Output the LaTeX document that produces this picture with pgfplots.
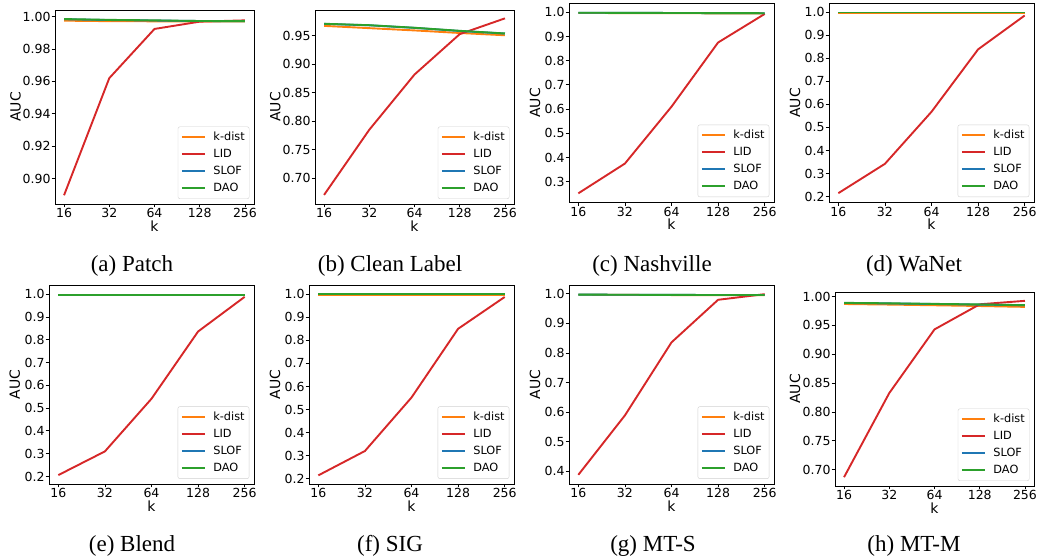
\documentclass[border=0pt]{standalone}
\usepackage{pgfplots}
\pgfplotsset{compat=1.18}
\usepackage{fontspec}
\setmainfont{Liberation Serif}
\newfontfamily\dv{DejaVu Sans}
\definecolor{cK}{HTML}{FF7F0E}
\definecolor{cL}{HTML}{D62728}
\definecolor{cS}{HTML}{1F77B4}
\definecolor{cD}{HTML}{2CA02C}
\pgfplotsset{
  panel/.style={
    scale only axis,
    anchor=south west,
    xmin=-0.2, xmax=4.2,
    xtick={0,1,2,3,4},
    xticklabels={16,32,64,128,256},
    tick pos=left,
    tick align=outside,
    major tick length=3.3pt,
    every tick/.style={black, line width=0.8pt},
    axis line style={line width=0.9pt},
    tick label style={font=\dv\fontsize{12.5}{14}\selectfont, inner sep=1pt},
    label style={font=\dv\fontsize{14}{16}\selectfont},
    xlabel={k}, ylabel={AUC},
    xlabel style={at={(axis description cs:0.5,0)}, anchor=center, yshift=-22pt},
    ylabel style={anchor=center},
    legend cell align=left,
    legend style={at={(axis description cs:0.977,0.026)}, anchor=south east,
      draw=black!18, rounded corners=2pt, fill=white, fill opacity=0.8, text opacity=1,
      font=\dv\fontsize{11.3}{13}\selectfont, inner xsep=3pt, inner ysep=4pt, row sep=4pt,
      nodes={inner sep=1.5pt, text height=8pt, text depth=2pt},
      /tikz/every odd column/.append style={column sep=6pt}},
    legend image code/.code={\draw[##1, line width=2pt] (0pt,0pt) -- (23pt,0pt);},
    every axis plot/.append style={line width=1.9pt, mark=none},
  },
}
\begin{document}
\begin{tikzpicture}
\useasboundingbox (0,0) rectangle (1039pt,559pt);
% (a) Patch
\begin{axis}[panel, at={(55pt,355pt)}, width=199pt, height=194pt,
  ymin=0.8843, ymax=1.0041,
  ytick={0.90,0.92,0.94,0.96,0.98,1.00}, yticklabels={0.90,0.92,0.94,0.96,0.98,1.00},
  ylabel style={at={(axis description cs:-0.1985,0.5)}}]
\addplot[cK] coordinates {(0,0.9975) (1,0.9972) (2,0.9971) (3,0.9970) (4,0.9970)};
\addplot[cL] coordinates {(0,0.8897) (1,0.9620) (2,0.9924) (3,0.9969) (4,0.9977)};
\addplot[cS] coordinates {(0,0.9984) (1,0.9979) (2,0.9976) (3,0.9973) (4,0.9972)};
\addplot[cD] coordinates {(0,0.9985) (1,0.9980) (2,0.9977) (3,0.9973) (4,0.9972)};
\legend{k-dist,LID,SLOF,DAO}
\end{axis}
% (b) Clean Label
\begin{axis}[panel, at={(315pt,355pt)}, width=199pt, height=194pt,
  ymin=0.6546, ymax=0.9954,
  ytick={0.70,0.75,0.80,0.85,0.90,0.95}, yticklabels={0.70,0.75,0.80,0.85,0.90,0.95},
  ylabel style={at={(axis description cs:-0.1995,0.5)}}]
\addplot[cK] coordinates {(0,0.9675) (1,0.9635) (2,0.9595) (3,0.9550) (4,0.9510)};
\addplot[cL] coordinates {(0,0.6705) (1,0.7850) (2,0.8820) (3,0.9530) (4,0.9807)};
\addplot[cS] coordinates {(0,0.9710) (1,0.9685) (2,0.9640) (3,0.9585) (4,0.9540)};
\addplot[cD] coordinates {(0,0.9712) (1,0.9687) (2,0.9642) (3,0.9588) (4,0.9542)};
\legend{k-dist,LID,SLOF,DAO}
\end{axis}
% (c) Nashville
\begin{axis}[panel, at={(569pt,356.7pt)}, width=205pt, height=199pt,
  ymin=0.215, ymax=1.037,
  ytick={0.3,0.4,0.5,0.6,0.7,0.8,0.9,1.0}, yticklabels={0.3,0.4,0.5,0.6,0.7,0.8,0.9,1.0},
  ylabel style={at={(axis description cs:-0.166,0.5)}}]
\addplot[cK] coordinates {(0,0.9970) (1,0.9965) (2,0.9960) (3,0.9955) (4,0.9950)};
\addplot[cL] coordinates {(0,0.252) (1,0.375) (2,0.610) (3,0.875) (4,0.993)};
\addplot[cS] coordinates {(0,0.9980) (1,0.9975) (2,0.9970) (3,0.9965) (4,0.9960)};
\addplot[cD] coordinates {(0,0.9980) (1,0.9975) (2,0.9970) (3,0.9965) (4,0.9960)};
\legend{k-dist,LID,SLOF,DAO}
\end{axis}
% (d) WaNet
\begin{axis}[panel, at={(829pt,356.7pt)}, width=205pt, height=199pt,
  ymin=0.175, ymax=1.039,
  ytick={0.2,0.3,0.4,0.5,0.6,0.7,0.8,0.9,1.0}, yticklabels={0.2,0.3,0.4,0.5,0.6,0.7,0.8,0.9,1.0},
  ylabel style={at={(axis description cs:-0.166,0.5)}}]
\addplot[cK] coordinates {(0,0.9985) (1,0.9985) (2,0.9985) (3,0.9985) (4,0.9985)};
\addplot[cL] coordinates {(0,0.2145) (1,0.342) (2,0.568) (3,0.839) (4,0.986)};
\addplot[cS] coordinates {(0,0.9990) (1,0.9990) (2,0.9990) (3,0.9990) (4,0.9990)};
\addplot[cD] coordinates {(0,0.9990) (1,0.9990) (2,0.9990) (3,0.9990) (4,0.9990)};
\legend{k-dist,LID,SLOF,DAO}
\end{axis}
% (e) Blend
\begin{axis}[panel, at={(49pt,75pt)}, width=205pt, height=199pt,
  ymin=0.167, ymax=1.040,
  ytick={0.2,0.3,0.4,0.5,0.6,0.7,0.8,0.9,1.0}, yticklabels={0.2,0.3,0.4,0.5,0.6,0.7,0.8,0.9,1.0},
  ylabel style={at={(axis description cs:-0.167,0.5)}}]
\addplot[cK] coordinates {(0,0.9975) (1,0.9975) (2,0.9975) (3,0.9975) (4,0.9975)};
\addplot[cL] coordinates {(0,0.206) (1,0.310) (2,0.541) (3,0.836) (4,0.988)};
\addplot[cS] coordinates {(0,0.9980) (1,0.9980) (2,0.9980) (3,0.9980) (4,0.9980)};
\addplot[cD] coordinates {(0,0.9980) (1,0.9980) (2,0.9980) (3,0.9980) (4,0.9980)};
\legend{k-dist,LID,SLOF,DAO}
\end{axis}
% (f) SIG
\begin{axis}[panel, at={(309pt,75pt)}, width=205pt, height=199pt,
  ymin=0.177, ymax=1.040,
  ytick={0.2,0.3,0.4,0.5,0.6,0.7,0.8,0.9,1.0}, yticklabels={0.2,0.3,0.4,0.5,0.6,0.7,0.8,0.9,1.0},
  ylabel style={at={(axis description cs:-0.166,0.5)}}]
\addplot[cK] coordinates {(0,0.9985) (1,0.9985) (2,0.9985) (3,0.9985) (4,0.9985)};
\addplot[cL] coordinates {(0,0.2144) (1,0.320) (2,0.552) (3,0.850) (4,0.988)};
\addplot[cS] coordinates {(0,0.9990) (1,0.9990) (2,0.9990) (3,0.9990) (4,0.9990)};
\addplot[cD] coordinates {(0,0.9990) (1,0.9990) (2,0.9990) (3,0.9990) (4,0.9990)};
\legend{k-dist,LID,SLOF,DAO}
\end{axis}
% (g) MT-S
\begin{axis}[panel, at={(569pt,75pt)}, width=205pt, height=199pt,
  ymin=0.357, ymax=1.030,
  ytick={0.4,0.5,0.6,0.7,0.8,0.9,1.0}, yticklabels={0.4,0.5,0.6,0.7,0.8,0.9,1.0},
  ylabel style={at={(axis description cs:-0.166,0.5)}}]
\addplot[cK] coordinates {(0,0.9970) (1,0.9965) (2,0.9960) (3,0.9960) (4,0.9960)};
\addplot[cL] coordinates {(0,0.388) (1,0.589) (2,0.836) (3,0.980) (4,0.999)};
\addplot[cS] coordinates {(0,0.9975) (1,0.9970) (2,0.9965) (3,0.9962) (4,0.9962)};
\addplot[cD] coordinates {(0,0.9975) (1,0.9970) (2,0.9965) (3,0.9962) (4,0.9962)};
\legend{k-dist,LID,SLOF,DAO}
\end{axis}
% (h) MT-M
\begin{axis}[panel, at={(835pt,73pt)}, width=199pt, height=194pt,
  ymin=0.6717, ymax=1.0078,
  ytick={0.70,0.75,0.80,0.85,0.90,0.95,1.00}, yticklabels={0.70,0.75,0.80,0.85,0.90,0.95,1.00},
  ylabel style={at={(axis description cs:-0.201,0.5)}}]
\addplot[cK] coordinates {(0,0.9870) (1,0.9860) (2,0.9848) (3,0.9835) (4,0.9820)};
\addplot[cL] coordinates {(0,0.687) (1,0.8327) (2,0.943) (3,0.9865) (4,0.9925)};
\addplot[cS] coordinates {(0,0.9888) (1,0.9880) (2,0.9870) (3,0.9860) (4,0.9848)};
\addplot[cD] coordinates {(0,0.9890) (1,0.9882) (2,0.9872) (3,0.9862) (4,0.9850)};
\legend{k-dist,LID,SLOF,DAO}
\end{axis}
% captions
\begin{scope}[every node/.style={anchor=base, inner sep=0pt, font=\fontsize{23}{27}\selectfont}]
\node at (132pt,287.3pt) {(a) Patch};
\node at (390pt,287.3pt) {(b) Clean Label};
\node at (652pt,287.3pt) {(c) Nashville};
\node at (914pt,287.3pt) {(d) WaNet};
\node at (132pt,7.3pt) {(e) Blend};
\node at (390pt,7.3pt) {(f) SIG};
\node at (653pt,7.3pt) {(g) MT-S};
\node at (914pt,7.3pt) {(h) MT-M};
\end{scope}
\end{tikzpicture}
\end{document}
